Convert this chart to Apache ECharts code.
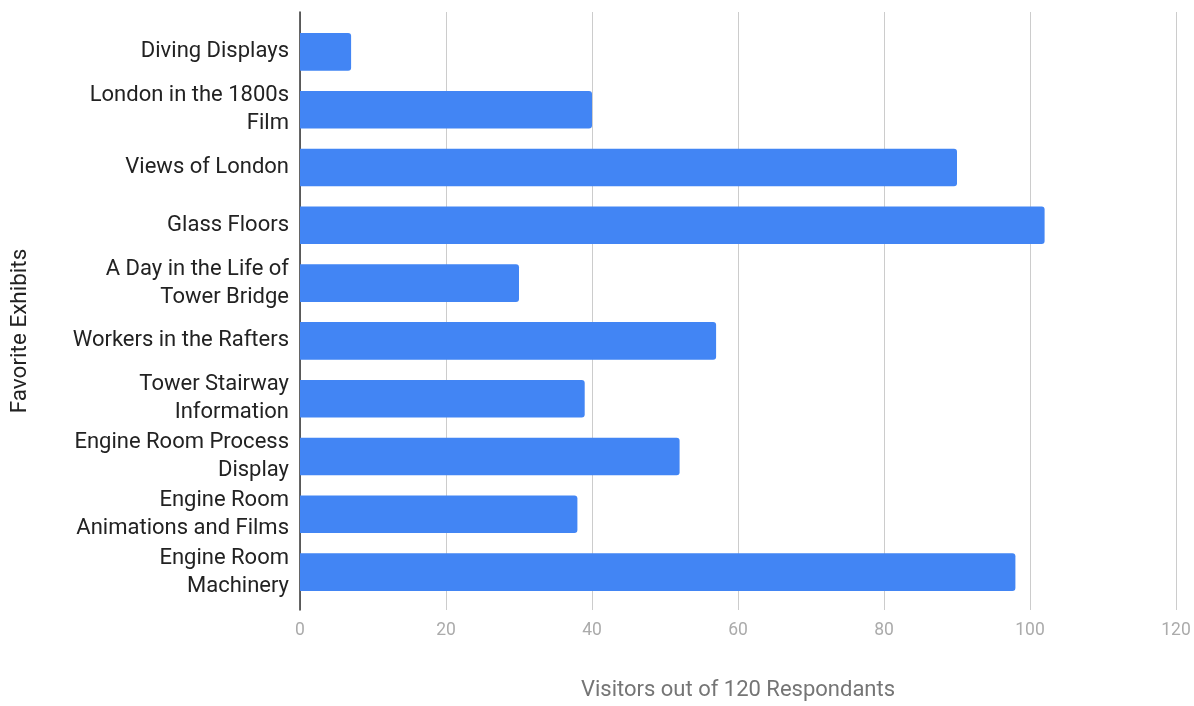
<!DOCTYPE html>
<html>
<head>
<meta charset="utf-8">
<script src="https://cdn.jsdelivr.net/npm/echarts@6/dist/echarts.min.js"></script>
<style>
  html, body { margin: 0; padding: 0; background: #fff; }
  #chart { width: 1194px; height: 706px; }
</style>
</head>
<body>
<div id="chart"></div>
<script>
// Exhibit names (line breaks as shown on the axis), top to bottom
const exhibits = [
  'Diving Displays',
  'London in the 1800s\nFilm',
  'Views of London',
  'Glass Floors',
  'A Day in the Life of\nTower Bridge',
  'Workers in the Rafters',
  'Tower Stairway\nInformation',
  'Engine Room Process\nDisplay',
  'Engine Room\nAnimations and Films',
  'Engine Room\nMachinery'
];
// Number of visitors naming each exhibit a favourite
const visitors = [7, 40, 90, 102, 30, 57, 39, 52, 38, 98];
const xTicks = { min: 0, max: 120, interval: 20 };
const xTitle = 'Visitors out of 120 Respondants';
const yTitle = 'Favorite Exhibits';

const font = 'Roboto, "Noto Sans", Arial, sans-serif';
const chart = echarts.init(document.getElementById('chart'), null, { renderer: 'canvas' });

chart.setOption({
  backgroundColor: '#ffffff',
  animation: false,
  grid: [
    // frame: gridlines, value labels and the left axis line
    { left: 300, right: 18, top: 12, height: 600 },
    // bars, slightly inset vertically
    { left: 300, right: 18, top: 23, height: 578 }
  ],
  xAxis: [
    {
      gridIndex: 0, type: 'value',
      min: xTicks.min, max: xTicks.max, interval: xTicks.interval,
      axisLine: { show: false }, axisTick: { show: false },
      splitLine: { show: true, lineStyle: { color: '#cccccc', width: 1 } },
      axisLabel: { color: '#ababab', fontSize: 17.5, fontFamily: font, margin: 12 },
      name: xTitle, nameLocation: 'middle', nameGap: 69,
      nameTextStyle: { color: '#757575', fontSize: 22, fontFamily: font }
    },
    {
      gridIndex: 1, type: 'value',
      min: xTicks.min, max: xTicks.max, interval: xTicks.interval,
      show: false
    }
  ],
  yAxis: [
    {
      gridIndex: 0, type: 'value', min: 0, max: 1,
      axisLine: { show: true, lineStyle: { color: '#333333', width: 1.5 } },
      axisTick: { show: false }, axisLabel: { show: false },
      splitLine: { show: false }
    },
    {
      gridIndex: 1, type: 'category', inverse: true,
      data: exhibits,
      axisLine: { show: false }, axisTick: { show: false },
      splitLine: { show: false },
      axisLabel: {
        color: '#222222', fontSize: 22, fontFamily: font,
        margin: 11, lineHeight: 28, align: 'right',
        interval: 0, showMinLabel: true, showMaxLabel: true
      }
    }
  ],
  graphic: [
    {
      type: 'text', x: 20, y: 331, rotation: Math.PI / 2,
      style: {
        text: yTitle, fill: '#222222', fontSize: 22.5, fontFamily: font,
        textAlign: 'center', textVerticalAlign: 'middle'
      }
    }
  ],
  series: [
    {
      type: 'bar',
      xAxisIndex: 1, yAxisIndex: 1,
      data: visitors,
      barCategoryGap: '35%',
      itemStyle: { color: '#4285f4', borderRadius: [0, 3, 3, 0] },
      z: 1
    }
  ]
});
</script>
</body>
</html>
